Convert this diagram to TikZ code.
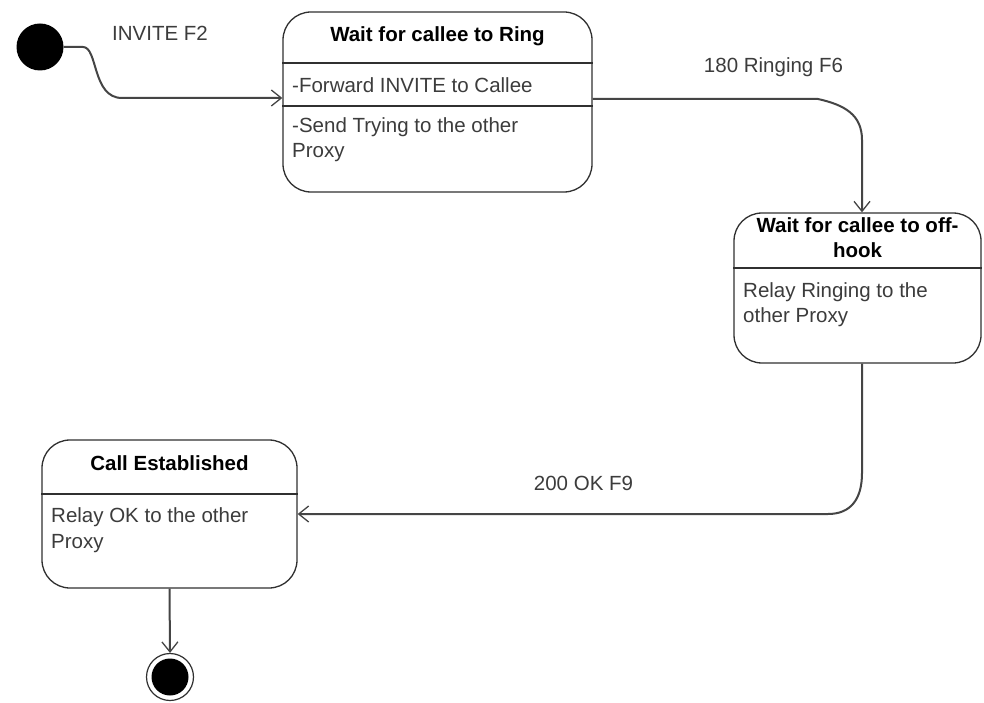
\documentclass[tikz,border=0pt]{standalone}
\usepackage{fontspec}
\setmainfont{Liberation Sans}
\usetikzlibrary{arrows.meta}
\definecolor{txt}{HTML}{3C3C3C}
\definecolor{ln}{HTML}{303030}
\definecolor{edg}{HTML}{454545}
\begin{document}
\begin{tikzpicture}[x=1pt,y=-1pt,
  state/.style={draw=ln, line width=1.3pt, rounded corners=28pt, rectangle, inner sep=0pt},
  divider/.style={draw=ln, line width=1.3pt},
  ttl/.style={font=\fontsize{20.5}{25}\selectfont\bfseries, text=black, inner sep=0pt, anchor=base},
  body/.style={font=\fontsize{20.5}{25}\selectfont, text=txt, inner sep=0pt, anchor=base west},
  lbl/.style={font=\fontsize{20.5}{25}\selectfont, text=txt, inner sep=0pt, anchor=base},
  edge/.style={draw=edg, line width=2pt, -{Straight Barb[length=10pt,width=16pt,line width=1.3pt]}},
]
\useasboundingbox[fill=white] (0,0) rectangle (984,703);

% initial and final states
\node[circle, fill=black, minimum size=47pt, inner sep=0pt] (init) at (40,47) {};
\node[circle, draw=ln, line width=1.2pt, minimum size=47pt, inner sep=0pt] (fin) at (170,677) {};
\node[circle, fill=black, minimum size=37pt, inner sep=0pt] (finin) at (fin.center) {};

% state boxes
\node[state, minimum width=309pt, minimum height=180pt] (b1) at (437.5,102) {};
\node[state, minimum width=247pt, minimum height=150pt] (b2) at (857.5,288) {};
\node[state, minimum width=255pt, minimum height=148pt] (b3) at (169.5,514) {};

% box 1
\coordinate (d1a) at (0,63);
\coordinate (d1b) at (0,106);
\draw[divider] (b1.west |- d1a) -- (b1.east |- d1a);
\draw[divider] (b1.west |- d1b) -- (b1.east |- d1b);
\node[ttl] (t1) at (437.5,42) {Wait for callee to Ring};
\node[body] (b1l1) at (292,93) {-Forward INVITE to Callee};
\node[body] (b1l2) at (292,133) {-Send Trying to the other};
\node[body] (b1l3) at (292,158) {Proxy};

% box 2
\coordinate (d2) at (0,268);
\draw[divider] (b2.west |- d2) -- (b2.east |- d2);
\node[ttl] (t2a) at (857.5,233) {Wait for callee to off-};
\node[ttl] (t2b) at (857.5,258) {hook};
\node[body] (b2l1) at (743,297) {Relay Ringing to the};
\node[body] (b2l2) at (743,322) {other Proxy};

% box 3
\coordinate (d3) at (0,494);
\draw[divider] (b3.west |- d3) -- (b3.east |- d3);
\node[ttl] (t3) at (169.5,470) {Call Established};
\node[body] (b3l1) at (51,522) {Relay OK to the other};
\node[body] (b3l2) at (51,548) {Proxy};

% transitions
\coordinate (e1a) at (83,47);
\coordinate (e1b) at (122,98);
\draw[edge] (init.east) -- (e1a) .. controls (98,47) and (92,98) .. (e1b) -- (b1.west |- e1b);
\node[lbl] (l1) at (160,41) {INVITE F2};

\coordinate (e2a) at (818,99);
\coordinate (e2b) at (862,140);
\draw[edge] (b1.east |- e2a) -- (e2a) .. controls (845,105) and (862,115) .. (e2b) -- (b2.north -| e2b);
\node[lbl] (l2) at (773.5,73) {180 Ringing F6};

\coordinate (e3a) at (862,473);
\coordinate (e3b) at (828,514);
\draw[edge] (b2.south -| e3a) -- (e3a) .. controls (862,500) and (850,514) .. (e3b) -- (b3.east |- e3b);
\node[lbl] (l3) at (583.5,490) {200 OK F9};

\draw[edge] (b3.south) -- (fin.north);
\end{tikzpicture}
\end{document}
